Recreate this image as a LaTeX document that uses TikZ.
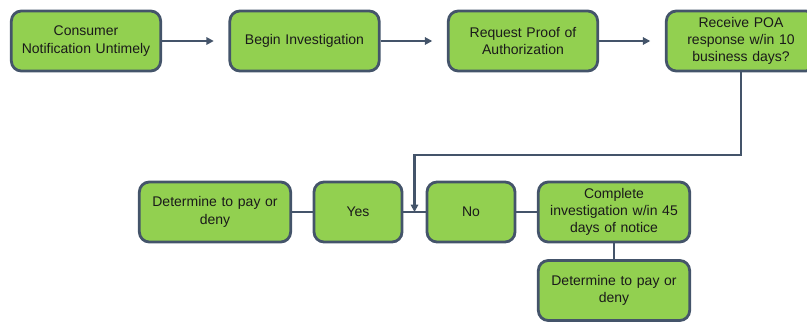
\documentclass[tikz,border=0pt]{standalone}
\usepackage{fontspec}
\setmainfont{Liberation Sans}
\usetikzlibrary{arrows.meta,calc}
\definecolor{leaf}{HTML}{92D050}
\definecolor{slate}{HTML}{44546A}
\definecolor{ink}{HTML}{1A1A1A}

\begin{document}
\begin{tikzpicture}[
  x=0.75pt,
  y=-0.75pt,
  >={Triangle[length=5.5pt,width=5.5pt]},
  stepbox/.style={draw=slate,fill=leaf,line width=2.1pt,rounded corners=7.5pt,
    text=ink,align=center,minimum height=45pt,inner sep=2pt,
    font=\fontsize{10.5}{13}\selectfont},
  wide/.style={stepbox,minimum width=112pt,text width=108pt},
  narrow/.style={stepbox,minimum width=66pt},
  flow/.style={->,slate,line width=1.9pt,shorten >=11pt},
  joinline/.style={slate,line width=1.9pt}
]
\useasboundingbox (0,0) rectangle (807,322);

% Top row
\node[wide] (notify)  at (86,41)  {Consumer\\Notification Untimely};
\node[wide] (begin)   at (304.5,41) {Begin Investigation};
\node[wide] (request) at (523,41) {Request Proof of\\Authorization};
\node[wide] (receive) at (741,41) {Receive POA\\response w/in 10\\business days?};

\draw[flow] (notify) -- (begin);
\draw[flow] (begin) -- (request);
\draw[flow] (request) -- (receive);

% Bottom row
\node[wide,minimum width=113.5pt]   (payleft)  at (215,212) {Determine to pay or\\deny};
\node[narrow] (yes)      at (358,212) {Yes};
\node[narrow] (no)       at (471,212) {No};
\node[wide,minimum width=113.5pt]   (complete) at (614,212) {Complete\\investigation w/in 45\\days of notice};
\node[wide,minimum width=113.5pt]   (payright) at (614,290.5) {Determine to pay or\\deny};

\coordinate (merge) at ($(yes.east)!0.5!(no.west)$);

\draw[joinline] (payleft) -- (yes);
\draw[joinline] (yes) -- (no);
\draw[joinline] (no) -- (complete);
\draw[joinline] (complete) -- (payright);

% Answer feeds back into the Yes/No row
\draw[->,joinline] (receive.south) -- (receive.south |- 0,155) -| (merge);

\end{tikzpicture}
\end{document}
